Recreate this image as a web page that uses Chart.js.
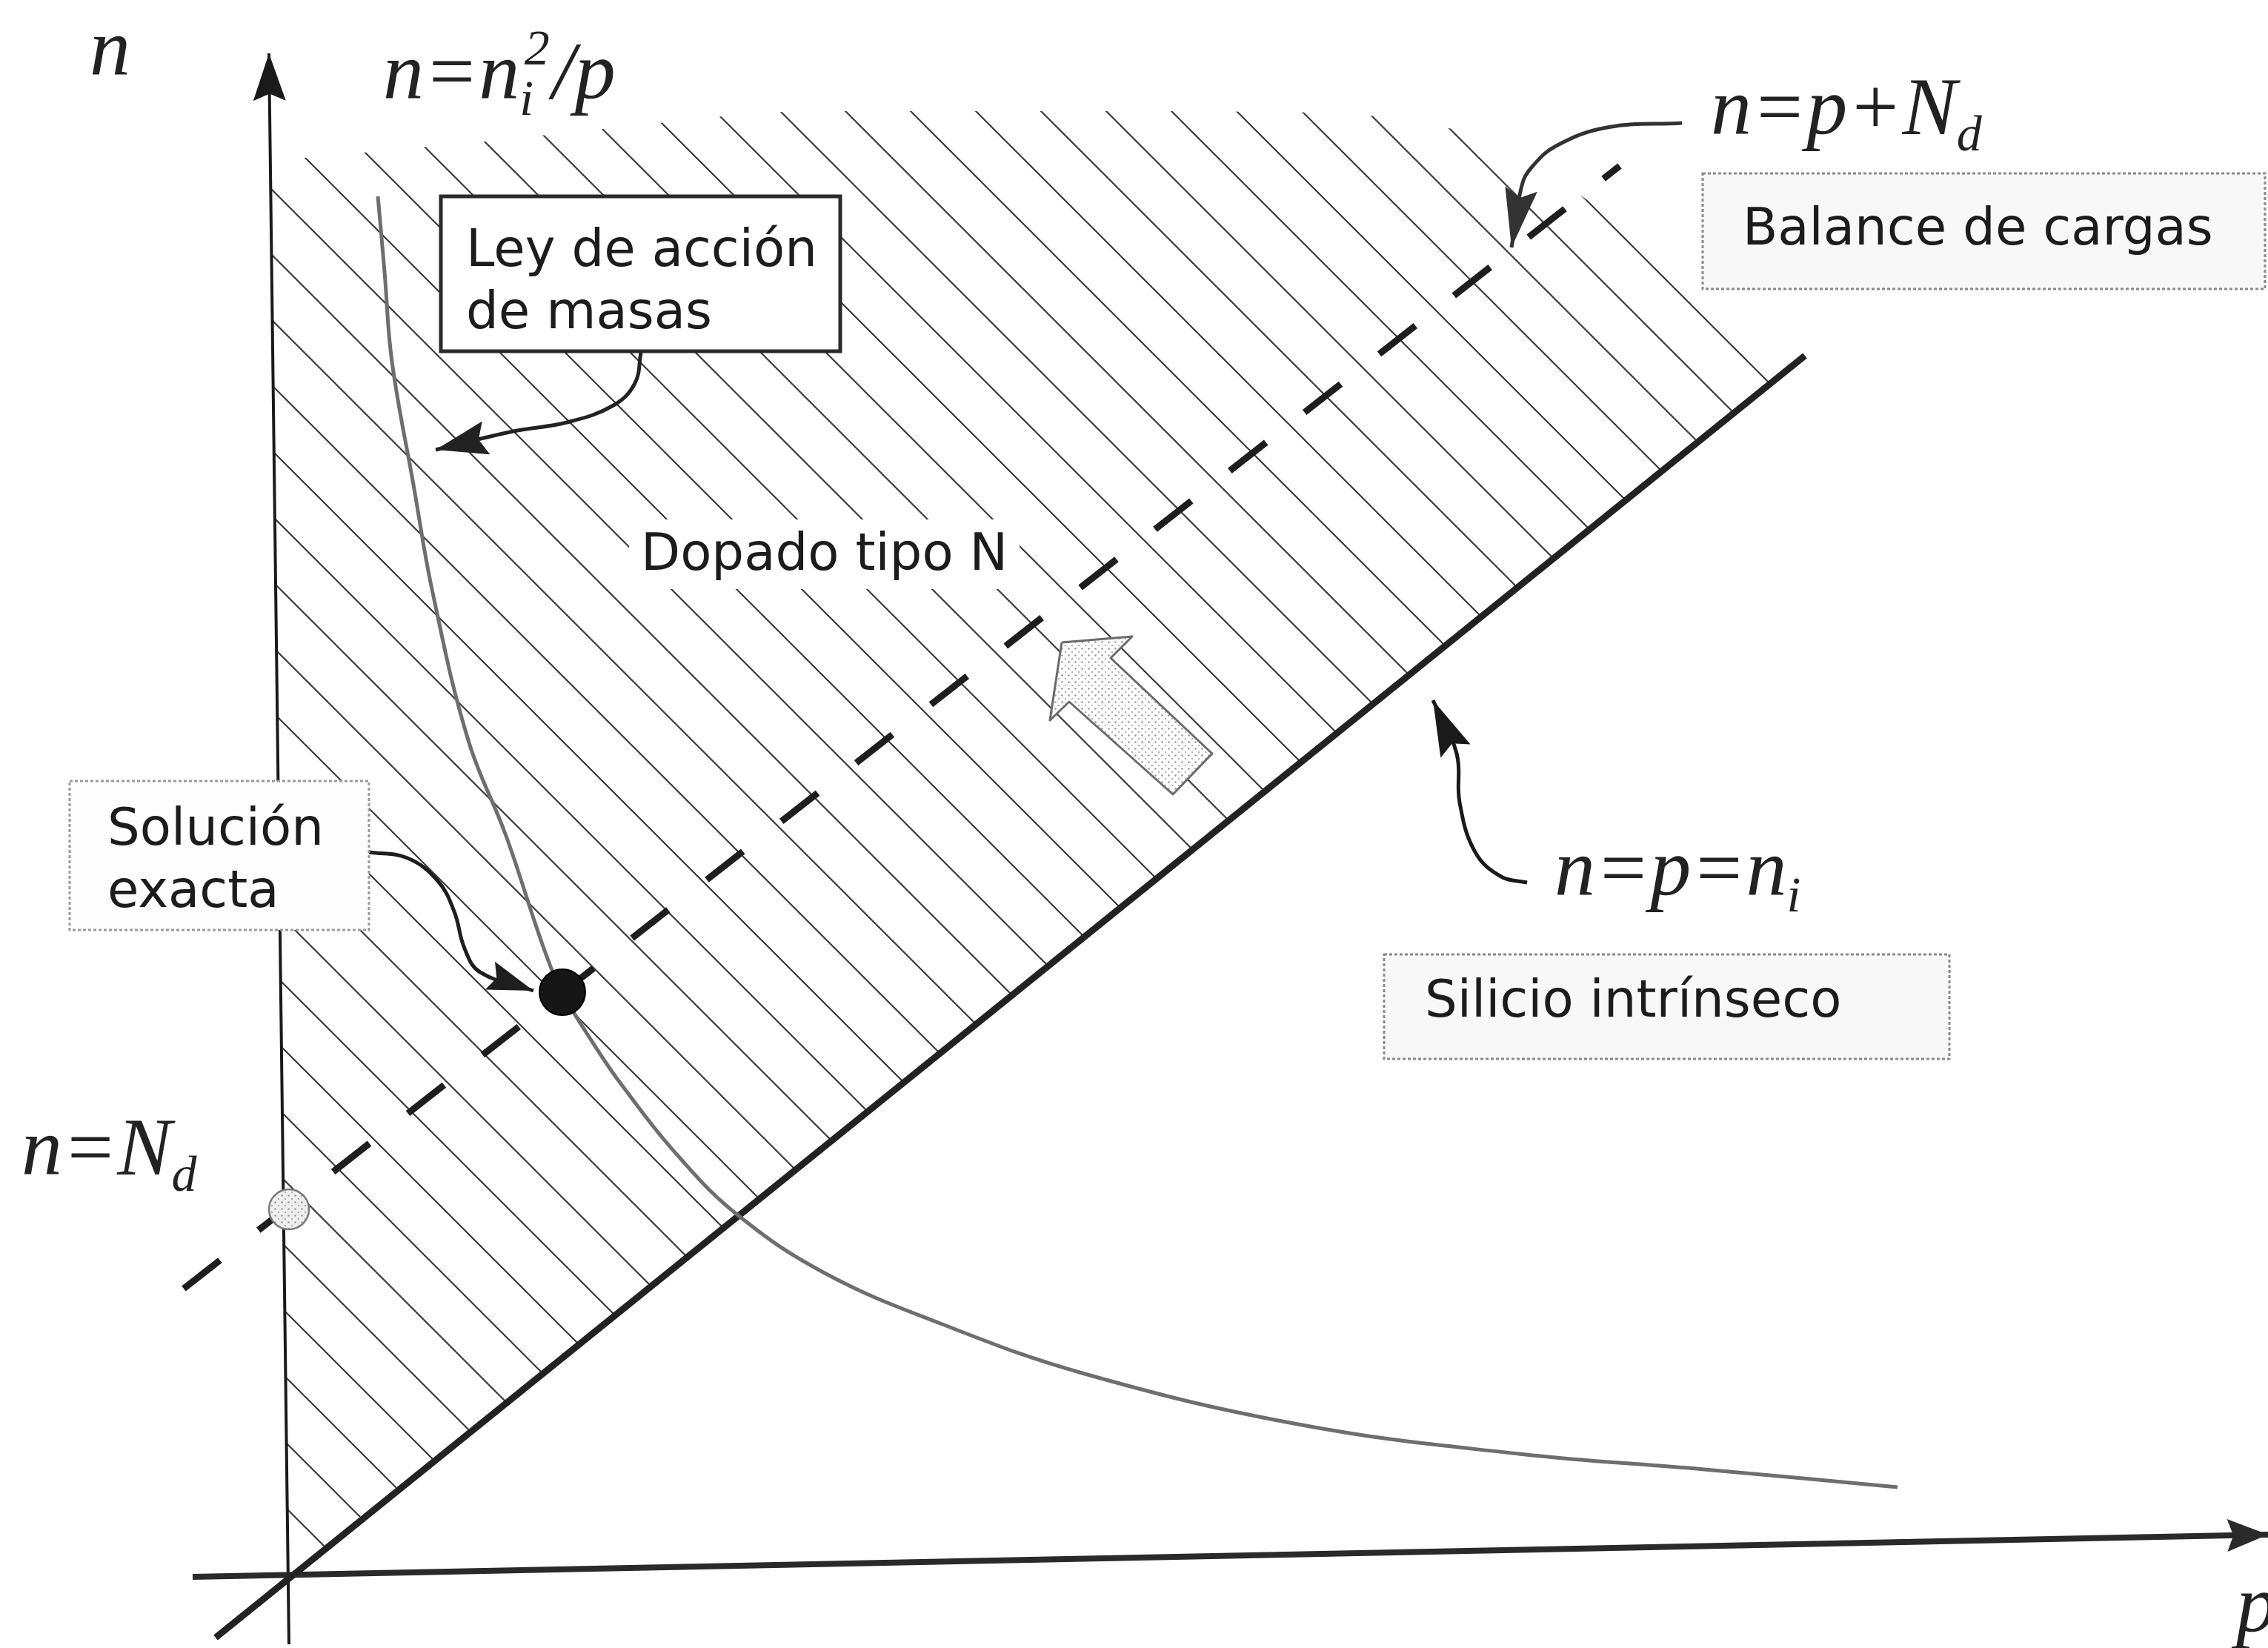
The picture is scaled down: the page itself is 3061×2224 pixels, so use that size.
<!DOCTYPE html>
<html><head><meta charset="utf-8">
<script src="https://cdn.jsdelivr.net/npm/chart.js@4.4.1/dist/chart.umd.min.js"></script>
<style>html,body{margin:0;padding:0;background:#fff;overflow:hidden}canvas{display:block}</style>
</head><body>
<canvas id="c" width="3061" height="2224"></canvas>
<script>
// ---------- DATA (p, n in diagram units; origin = axes crossing) ----------
const axisP_P = [-1.30, 26.71];            // p axis (slightly tilted in the scan)
const axisP_N = [-0.06, 0.51];
const axisN_P = [0.00, -0.27];             // n axis
const axisN_N = [-0.97, 20.50];
const intrinsicP = [-0.99, 20.46];         // n = p = ni
const intrinsicN = [-0.88, 16.42];
const massP = [1.20, 1.29, 1.39, 1.68, 1.94, 2.42, 2.93, 3.44, 3.69, 4.10, 4.49, 5.27, 6.06, 7.23, 8.79, 10.74, 13.67, 16.60, 19.10, 21.71];
const massN = [18.57, 17.55, 16.34, 14.68, 13.22, 11.23, 9.94, 8.42, 7.83, 7.15, 6.58, 5.60, 4.82, 4.04, 3.36, 2.68, 1.99, 1.60, 1.39, 1.15];
const chargeP = [-1.42, 17.96];            // n = p + Nd
const chargeN = [3.83, 18.98];
const hatchP = [0.00, -0.25, 0.22, 2.64, 5.94, 6.82, 12.18, 14.06, 15.07, 16.28, 17.57, 19.04, 20.46];
const hatchN = [-0.02, 19.03, 19.09, 19.31, 19.66, 19.72, 19.72, 19.70, 19.62, 19.35, 18.49, 17.22, 16.42];
const solutionP = [3.69], solutionN = [7.83];
const ndP = [0.00], ndN = [4.90];
const blockArrowP = [10.43, 11.38, 11.09, 12.46, 11.93, 10.53, 10.27, 10.43];
const blockArrowN = [12.55, 12.63, 12.34, 11.05, 10.50, 11.75, 11.50, 12.55];
const leyArrowP = [4.75, 4.67, 4.38, 3.75, 3.03, 1.98];
const leyArrowN = [16.46, 16.05, 15.75, 15.52, 15.40, 15.15];
const ndArrowP = [18.80, 17.79, 17.10, 16.77, 16.64, 16.50];
const ndArrowN = [19.56, 19.50, 19.25, 18.96, 18.72, 17.88];
const solArrowP = [1.08, 1.60, 2.01, 2.23, 2.37, 2.58, 3.30];
const solArrowN = [9.72, 9.64, 9.33, 8.92, 8.42, 8.10, 7.85];
const niArrowP = [16.71, 16.36, 16.01, 15.80, 15.76, 15.44];
const niArrowN = [9.31, 9.39, 9.72, 10.39, 11.05, 11.77];

// text
const mathLabels = [
  [['n']],
  [['n=n'], ['i', 'sub', '2'], ['/p']],
  [['n=p+N'], ['d', 'sub']],
  [['n=N'], ['d', 'sub']],
  [['n=p=n'], ['i', 'sub']],
  [['p']]
];
const mathP = [-2.69, 1.27, 19.19, -3.61, 17.08, 26.28];
const mathN = [20.21, 19.89, 19.41, 5.37, 9.14, -0.80];

const boxP0 = [2.05, -2.96, 19.08, 14.78];
const boxP1 = [7.44, 1.08, 26.67, 22.41];
const boxN0 = [16.48, 8.67, 17.32, 6.93];
const boxN1 = [18.57, 10.68, 18.88, 8.34];

const sansLabels = ['Ley de acción', 'de masas', 'Solución', 'exacta', 'Balance de cargas', 'Silicio intrínseco', 'Dopado tipo N'];
const sansP = [2.39, 2.39, -2.45, -2.45, 19.62, 15.33, 4.75];
const sansN = [17.63, 16.79, 9.82, 8.98, 17.92, 7.50, 13.53];

// ---------- helpers ----------
const pts = (P, N) => P.map((p, i) => ({x: p, y: N[i]}));

function hatchPattern(ctx) {
  const W = 88, H = 88;
  const c = document.createElement('canvas'); c.width = W; c.height = H;
  const g = c.getContext('2d');
  g.strokeStyle = '#3a3a3a'; g.lineWidth = 2.2;
  for (let m = -1; m <= 1; m++) {
    g.beginPath(); g.moveTo(-W, -H + m * H); g.lineTo(2 * W, 2 * H + m * H); g.stroke();
  }
  const pat = ctx.createPattern(c, 'repeat');
  pat.setTransform(new DOMMatrix([1, 0, 0, 1, 412, 213]));
  return pat;
}
function dotPattern(ctx, bg, dot) {
  const c = document.createElement('canvas'); c.width = 9; c.height = 9;
  const g = c.getContext('2d');
  g.fillStyle = bg; g.fillRect(0, 0, 9, 9);
  g.fillStyle = dot; g.beginPath(); g.arc(2.5, 2.5, 1.3, 0, 7); g.fill();
  g.beginPath(); g.arc(7, 7, 1.1, 0, 7); g.fill();
  return ctx.createPattern(c, 'repeat');
}

const ctx = document.getElementById('c').getContext('2d');
const HATCH = hatchPattern(ctx);
const DOTS = dotPattern(ctx, '#ffffff', '#9a9a9a');
const NDDOTS = dotPattern(ctx, '#eeeeee', '#9c9c9c');

function drawRich(g, x, y, parts, S) {
  let cx = x;
  g.fillStyle = '#222';
  parts.forEach(pt => {
    const [t, kind, sup] = pt;
    if (!kind) {
      g.font = `italic ${S}px "Liberation Serif"`;
      g.fillText(t, cx, y); cx += g.measureText(t).width;
    } else {
      const s = Math.round(S * 0.62);
      g.font = `italic ${s}px "Liberation Serif"`;
      g.fillText(t, cx, y + S * 0.2);
      let w = g.measureText(t).width;
      if (sup) {
        g.fillText(sup, cx + S * 0.06, y - S * 0.42);
        w = Math.max(w, g.measureText(sup).width + S * 0.06);
      }
      cx += w + S * 0.03;
    }
  });
}

const boxStyles = [
  {fill: '#ffffff', stroke: '#2a2a2a', width: 5, dash: []},
  {fill: '#fdfdfd', stroke: '#9a9a9a', width: 3, dash: [4, 3]},
  {fill: '#f8f8f8', stroke: '#8a8a8a', width: 3, dash: [4, 3]},
  {fill: '#f8f8f8', stroke: '#8a8a8a', width: 3, dash: [4, 3]}
];

const diagramPlugin = {
  id: 'diagram',
  afterDatasetsDraw(chart) {
    const g = chart.ctx, xs = chart.scales.x, ys = chart.scales.y;
    g.save();
    // boxes
    boxP0.forEach((p0, i) => {
      const x0 = xs.getPixelForValue(p0), x1 = xs.getPixelForValue(boxP1[i]);
      const y0 = ys.getPixelForValue(boxN1[i]), y1 = ys.getPixelForValue(boxN0[i]);
      const st = boxStyles[i];
      g.fillStyle = st.fill; g.fillRect(x0, y0, x1 - x0, y1 - y0);
      g.setLineDash(st.dash); g.strokeStyle = st.stroke; g.lineWidth = st.width;
      g.strokeRect(x0, y0, x1 - x0, y1 - y0);
    });
    g.setLineDash([]);
    // sans labels
    g.font = '69px "DejaVu Sans"';
    g.textBaseline = 'alphabetic';
    sansLabels.forEach((t, i) => {
      const x = xs.getPixelForValue(sansP[i]), y = ys.getPixelForValue(sansN[i]);
      if (i === sansLabels.length - 1) {
        const w = g.measureText(t).width;
        g.fillStyle = '#fff'; g.fillRect(x - 16, y - 68, w + 32, 94);
      }
      g.fillStyle = '#1c1c1c'; g.fillText(t, x, y);
    });
    // math labels
    mathLabels.forEach((parts, i) => {
      drawRich(g, xs.getPixelForValue(mathP[i]), ys.getPixelForValue(mathN[i]), parts, 110);
    });
    // arrow heads
    chart.data.datasets.forEach((ds, i) => {
      if (!ds.head) return;
      const el = chart.getDatasetMeta(i).data;
      const a = el[el.length - 2], b = el[el.length - 1];
      const ang = Math.atan2(b.y - a.y, b.x - a.x);
      const [L, W] = ds.head;
      g.save(); g.translate(b.x, b.y); g.rotate(ang);
      g.beginPath(); g.moveTo(0, 0); g.lineTo(-L, -W); g.lineTo(-L * 0.85, 0); g.lineTo(-L, W); g.closePath();
      g.fillStyle = ds.borderColor; g.fill();
      g.restore();
    });
    g.restore();
  }
};

const line = (data, extra) => Object.assign({
  data, showLine: true, pointRadius: 0, fill: false, clip: false, tension: 0,
  borderCapStyle: 'butt', borderJoinStyle: 'round'
}, extra);

new Chart(ctx, {
  type: 'scatter',
  data: {datasets: [
    line(pts(solutionP, solutionN), {showLine: false, pointRadius: 31, pointBackgroundColor: '#161616', pointBorderColor: '#000', pointBorderWidth: 2, order: 1}),
    line(pts(ndP, ndN), {showLine: false, pointRadius: 27, pointBackgroundColor: NDDOTS, pointBorderColor: '#7a7a7a', pointBorderWidth: 2.5, order: 1}),
    line(pts(leyArrowP, leyArrowN), {borderColor: '#222', borderWidth: 5, tension: 0.4, head: [70, 23], order: 2}),
    line(pts(ndArrowP, ndArrowN), {borderColor: '#333', borderWidth: 5, tension: 0.4, head: [80, 22], order: 2}),
    line(pts(solArrowP, solArrowN), {borderColor: '#1e1e1e', borderWidth: 5, tension: 0.4, head: [62, 20], order: 2}),
    line(pts(niArrowP, niArrowN), {borderColor: '#1a1a1a', borderWidth: 5, tension: 0.4, head: [75, 22], order: 2}),
    line(pts(chargeP, chargeN), {borderColor: '#1e1e1e', borderWidth: 9, borderDash: [62, 66], order: 3}),
    line(pts(massP, massN), {borderColor: '#6e6e6e', borderWidth: 5, tension: 0.4, order: 4}),
    line(pts(intrinsicP, intrinsicN), {borderColor: '#222', borderWidth: 9, order: 5}),
    line(pts(axisP_P, axisP_N), {borderColor: '#2a2a2a', borderWidth: 8, head: [55, 22], order: 5}),
    line(pts(axisN_P, axisN_N), {borderColor: '#1a1a1a', borderWidth: 4, head: [64, 22], order: 5}),
    line(pts(blockArrowP, blockArrowN), {borderColor: '#6a6a6a', borderWidth: 3, fill: 'shape', backgroundColor: DOTS, order: 6}),
    line(pts(hatchP, hatchN), {borderWidth: 0, borderColor: 'rgba(0,0,0,0)', fill: 'shape', backgroundColor: HATCH, order: 10})
  ]},
  options: {
    responsive: false, animation: false, devicePixelRatio: 1,
    layout: {padding: 0, autoPadding: false},
    scales: {
      x: {type: 'linear', min: -3.90, max: 26.71, display: false},
      y: {type: 'linear', min: -1.02, max: 21.22, display: false}
    },
    plugins: {legend: {display: false}, tooltip: {enabled: false}},
    events: []
  },
  plugins: [diagramPlugin]
});
</script>
</body></html>
